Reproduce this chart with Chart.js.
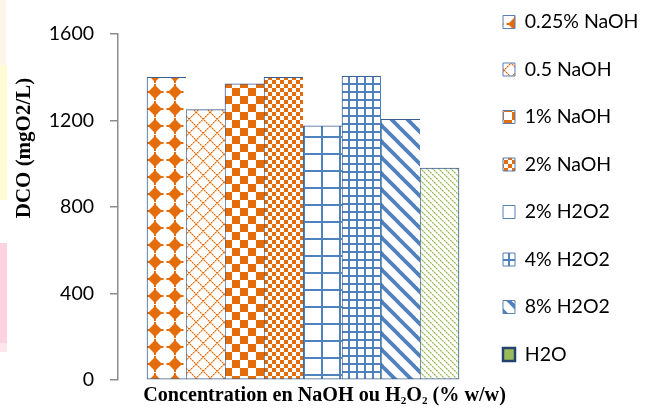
<!DOCTYPE html>
<html>
<head>
<meta charset="utf-8">
<script src="https://cdn.jsdelivr.net/npm/chart.js@4/dist/chart.umd.min.js"></script>
<style>
  html, body { margin: 0; padding: 0; background: #fff; }
  #wrap { position: relative; width: 647px; height: 416px; }
  #wrap canvas { position: absolute; left: 0; top: 0; }
  .edge { position: absolute; left: 0; width: 7px; }
</style>
</head>
<body>
<div id="wrap">
  <div class="edge" style="top:0;height:65px;background:#FBF6E7;width:6px"></div>
  <div class="edge" style="top:65px;height:135px;background:#FFFBD2"></div>
  <div class="edge" style="top:243px;height:100px;background:#FFD3DD"></div>
  <div class="edge" style="top:343px;height:9px;background:#FFE6EC"></div>
  <canvas id="chart" width="647" height="416"></canvas>
</div>
<script>
// DCO measured for each pretreatment
const categories = [''];
const seriesNames = ['0.25% NaOH', '0.5 NaOH', '1% NaOH', '2% NaOH', '2% H2O2', '4% H2O2', '8% H2O2', 'H2O'];
const dcoValues = [1400, 1250, 1370, 1400, 1175, 1405, 1205, 980];
const yTickValues = [0, 400, 800, 1200, 1600];

const ORANGE = '#E46C0A';
const BLUE = '#4F81BD';
const GREEN = '#9BBB59';
const EDGE = '#3A5F8F';

// Hatch fills built on small tiles
function tile(w, h, paint) {
  const c = document.createElement('canvas');
  c.width = w; c.height = h;
  const g = c.getContext('2d');
  g.fillStyle = '#fff';
  g.fillRect(0, 0, w, h);
  paint(g, w, h);
  return g.createPattern(c, 'repeat');
}

const fills = [
  // solid diamonds
  tile(20, 17, (g, w, h) => {
    g.fillStyle = ORANGE;
    for (const dx of [-w, 0, w]) for (const dy of [-h, 0, h]) {
      const cx = 15 + dx, cy = 7 + dy;
      g.beginPath();
      g.moveTo(cx, cy - 7); g.lineTo(cx + 7, cy); g.lineTo(cx, cy + 7); g.lineTo(cx - 7, cy);
      g.closePath(); g.fill();
      g.fillRect(cx - 8.5, cy - 1, 17, 2);
      g.fillRect(cx - 1, cy - 8, 2, 16);
    }
  }),
  // dotted diamond lattice
  tile(14, 14, (g, w) => {
    for (let i = 0; i < w; i++) {
      g.fillStyle = i % 2 ? '#F3B27A' : ORANGE;
      g.fillRect(i, i, 1.3, 1.3);
      g.fillRect(w - 1 - i, i, 1.3, 1.3);
    }
  }),
  // large checkerboard
  tile(16, 16, g => {
    g.fillStyle = ORANGE;
    g.fillRect(0, 0, 8, 8);
    g.fillRect(8, 8, 8, 8);
  }),
  // small checkerboard
  tile(8, 8, g => {
    g.fillStyle = ORANGE;
    g.fillRect(0, 0, 4, 4);
    g.fillRect(4, 4, 4, 4);
  }),
  // large grid
  tile(18, 17, (g, w, h) => {
    g.fillStyle = BLUE;
    g.fillRect(15, 0, 2, h);
    g.fillRect(0, 0, w, 2);
  }),
  // small grid
  tile(8, 8, (g, w, h) => {
    g.fillStyle = BLUE;
    g.fillRect(4, 0, 2, h);
    g.fillRect(0, 3, w, 2);
  }),
  // wide downward diagonal
  tile(16, 16, (g, w, h) => {
    g.strokeStyle = BLUE;
    g.lineWidth = 3.8;
    for (const off of [-w, 0, w]) {
      g.beginPath(); g.moveTo(off - 2, -2); g.lineTo(off + w + 2, h + 2); g.stroke();
    }
  }),
  // light dotted downward diagonal
  tile(6, 6, (g, w) => {
    for (let i = 0; i < w; i++) {
      g.fillStyle = i % 2 ? '#C6DAA0' : GREEN;
      g.fillRect(i, i, 1.4, 1.4);
    }
  })
];

const datasets = seriesNames.map((name, i) => ({
  label: name,
  data: [dcoValues[i]],
  backgroundColor: fills[i],
  borderColor: EDGE,
  borderWidth: i < seriesNames.length - 1 ? { top: 1, left: 1, bottom: 1, right: 0 } : 1,
  borderSkipped: false,
  barThickness: 39
}));

const LEGEND_W = 159;
const CANVAS_W = 647;
const CANVAS_H = 416;

// Fixed legend size, legend nudged into place, and the two axis titles
const layoutAndTitles = {
  id: 'layoutAndTitles',
  beforeLayout(chart) {
    const lg = chart.legend;
    if (lg && !lg._fixedSize) {
      const fit = lg.fit;
      lg.fit = function () {
        this.maxHeight = CANVAS_H;
        fit.call(this);
        this.width = LEGEND_W;
        this.height = CANVAS_H;
      };
      lg._fixedSize = true;
    }
  },
  afterLayout(chart) {
    const lg = chart.legend;
    if (!lg) return;
    const pad = lg.options.labels.padding;
    const size = lg.options.labels.font.size;
    const left = 503 - pad, top = 22 - pad - size / 2;
    lg.left = left; lg.right = CANVAS_W; lg.width = CANVAS_W - left;
    lg.top = top; lg.bottom = top + CANVAS_H; lg.height = CANVAS_H;
  },
  afterDraw(chart) {
    const ctx = chart.ctx;
    ctx.save();
    ctx.fillStyle = '#000';
    // y title
    ctx.translate(25, 148);
    ctx.rotate(-Math.PI / 2);
    ctx.font = 'bold 21px "Liberation Serif"';
    ctx.textAlign = 'center';
    ctx.textBaseline = 'middle';
    ctx.fillText('DCO (mgO2/L)', 0, 0);
    ctx.restore();

    // x title with subscripts, sized to span 363px
    ctx.save();
    ctx.fillStyle = '#000';
    ctx.textBaseline = 'alphabetic';
    ctx.textAlign = 'left';
    const parts = [
      ['Concentration en NaOH ou H', 1, 0],
      ['2', 0.55, 3],
      ['O', 1, 0],
      ['2', 0.55, 3],
      [' (% w/w)', 1, 0]
    ];
    const font = s => 'bold ' + s.toFixed(2) + 'px "Liberation Serif"';
    const widthAt = s => parts.reduce((sum, [t, k]) => { ctx.font = font(s * k); return sum + ctx.measureText(t).width; }, 0);
    const size = 20 * 363 / widthAt(20);
    const total = widthAt(size);
    let x = 324.5 - total / 2;
    const base = 401;
    for (const [t, k, dy] of parts) {
      ctx.font = font(size * k);
      ctx.fillText(t, x, base + dy);
      x += ctx.measureText(t).width;
    }
    ctx.restore();
  }
};

new Chart(document.getElementById('chart'), {
  type: 'bar',
  data: { labels: categories, datasets },
  options: {
    responsive: false,
    animation: false,
    layout: { padding: { left: 0, top: 34, right: 0, bottom: 36 } },
    scales: {
      x: { display: false },
      y: {
        min: yTickValues[0],
        max: yTickValues[yTickValues.length - 1],
        afterBuildTicks(scale) { scale.ticks = yTickValues.map(v => ({ value: v })); },
        afterFit(scale) { scale.width = 118; },
        border: { display: true, color: '#8C8C8C', width: 1.5 },
        grid: { drawOnChartArea: false, drawTicks: true, tickLength: 8, tickColor: '#8C8C8C', lineWidth: 1.5 },
        ticks: {
          color: '#000',
          padding: 16,
          font: { family: 'Lato', size: 19.5 },
          callback: v => String(v)
        }
      }
    },
    plugins: {
      tooltip: { enabled: false },
      legend: {
        position: 'right',
        align: 'start',
        labels: {
          boxWidth: 12,
          boxHeight: 13,
          padding: 28,
          color: '#000',
          font: { family: 'Lato', size: 19.5 },
          generateLabels(chart) {
            const items = Chart.defaults.plugins.legend.labels.generateLabels(chart);
            items.forEach(it => { it.lineWidth = 1; it.strokeStyle = '#5B7FB0'; });
            const last = items[items.length - 1];
            last.fillStyle = GREEN;
            last.strokeStyle = '#24426E';
            last.lineWidth = 2.5;
            return items;
          }
        }
      }
    }
  },
  plugins: [layoutAndTitles]
});
</script>
</body>
</html>
